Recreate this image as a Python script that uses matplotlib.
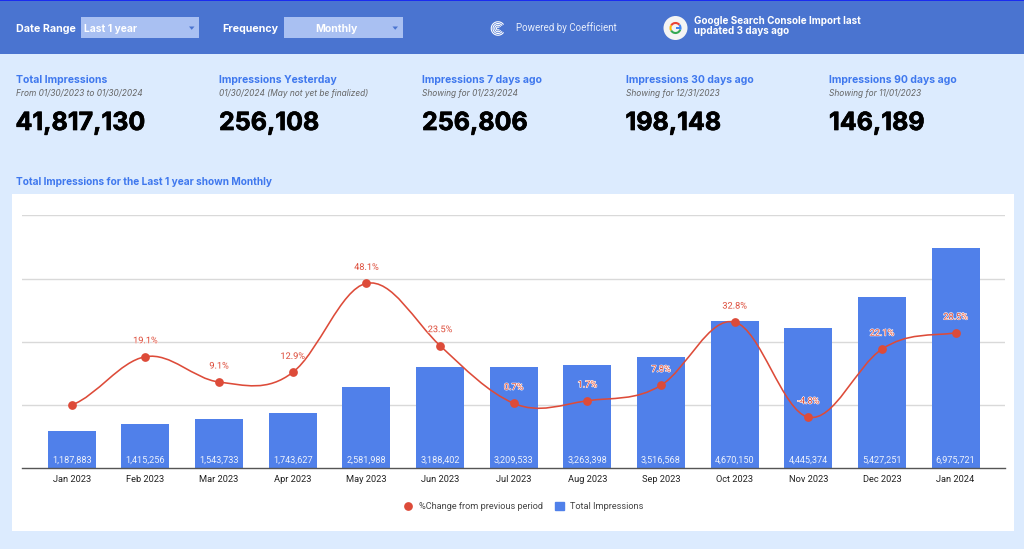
import matplotlib
matplotlib.use('Agg')
import matplotlib.pyplot as plt
import matplotlib.patheffects as pe
from matplotlib.lines import Line2D
from matplotlib.patches import Rectangle, Circle, Arc, PathPatch, Patch, Polygon
from matplotlib.path import Path
from matplotlib.ticker import FixedLocator, NullFormatter

months = ['Jan 2023', 'Feb 2023', 'Mar 2023', 'Apr 2023', 'May 2023', 'Jun 2023', 'Jul 2023',
          'Aug 2023', 'Sep 2023', 'Oct 2023', 'Nov 2023', 'Dec 2023', 'Jan 2024']
impressions = [1187883, 1415256, 1543733, 1743627, 2581988, 3188402, 3209533,
               3263398, 3516568, 4670150, 4445374, 5427251, 6975721]
pct_change = [0, 19.1, 9.1, 12.9, 48.1, 23.5, 0.7, 1.7, 7.8, 32.8, -4.8, 22.1, 28.5]
pct_labels = ['', '19.1%', '9.1%', '12.9%', '48.1%', '23.5%', '0.7%', '1.7%', '7.8%',
              '32.8%', '-4.8%', '22.1%', '28.5%']

kpi_titles = ['Total Impressions', 'Impressions Yesterday', 'Impressions 7 days ago',
              'Impressions 30 days ago', 'Impressions 90 days ago']
kpi_notes = ['From 01/30/2023 to 01/30/2024', '01/30/2024 (May not yet be finalized)',
             'Showing for 01/23/2024', 'Showing for 12/31/2023', 'Showing for 11/01/2023']
kpi_values = ['41,817,130', '256,108', '256,806', '198,148', '146,189']

BLUE = '#5080ea'
RED = '#dd4b39'
HEAD_FONT = ['Inter', 'DejaVu Sans']

W, H = 1024, 549
fig = plt.figure(figsize=(W / 100, H / 100), dpi=100, facecolor='#dcebfe')

# page furniture, in pixel coordinates
bg = fig.add_axes([0, 0, 1, 1], zorder=0)
bg.set_xlim(0, W)
bg.set_ylim(H, 0)
bg.axis('off')
bg.add_patch(Rectangle((0, 0), W, 54, color='#4a74d0', lw=0))
bg.add_patch(Rectangle((0, 0), W, 1.2, color='#1a2cf0', lw=0))
bg.add_patch(Rectangle((12, 194), 1002, 337, color='white', lw=0))

bg.text(15.5, 28.5, 'Date Range', color='white', fontsize=7.7, fontweight='bold', family=HEAD_FONT, va='center')
bg.add_patch(Rectangle((81, 17), 118, 21, color='#a9c0f2', lw=0))
bg.text(84, 28.5, 'Last 1 year', color='white', fontsize=7.4, fontweight='bold', family=HEAD_FONT, va='center')
bg.add_patch(Polygon([(189, 26.5), (194.5, 26.5), (191.7, 29.8)], color='#4a74d0', lw=0))
bg.text(222.5, 28.5, 'Frequency', color='white', fontsize=7.7, fontweight='bold', family=HEAD_FONT, va='center')
bg.add_patch(Rectangle((284, 17), 119, 21, color='#a9c0f2', lw=0))
bg.text(336.5, 28.5, 'Monthly', color='white', fontsize=7.6, fontweight='bold', family=HEAD_FONT, va='center', ha='center')
bg.add_patch(Polygon([(392.5, 26.5), (398, 26.5), (395.2, 29.8)], color='#4a74d0', lw=0))

# coefficient logo
for d in (13.5, 10, 6.5, 3):
    bg.add_patch(Arc((498, 28.5), d, d, theta1=35, theta2=325, color='white', lw=0.8))
bg.text(515.5, 28, 'Powered by Coefficient', color='#e8eefb', fontsize=7.0, family='Roboto', va='center')

# google badge
bg.add_patch(Circle((675.5, 28), 12, color='#f4f4f4', lw=0))
for t1, t2, col in [(320, 380, '#4285f4'), (210, 320, '#ea4335'), (150, 210, '#fbbc05'), (20, 150, '#34a853')]:
    bg.add_patch(Arc((675.5, 28), 10, 10, theta1=t1, theta2=t2, color=col, lw=1.5))
bg.add_patch(Rectangle((675.5, 27.2), 5, 1.6, color='#4285f4', lw=0))
bg.text(694, 20.5, 'Google Search Console Import last', color='white', fontsize=7.1, fontweight='bold', family=HEAD_FONT, va='center')
bg.text(694, 31, 'updated 3 days ago', color='white', fontsize=7.1, fontweight='bold', family=HEAD_FONT, va='center')

kpi_x = [15.5, 219, 422, 625.5, 829]
for x, title, note, value in zip(kpi_x, kpi_titles, kpi_notes, kpi_values):
    bg.text(x, 80, title, color='#3f78ee', fontsize=7.5, fontweight='bold', family=HEAD_FONT, va='center')
    bg.text(x, 93.5, note, color='#666666', fontsize=6.0, style='italic', family=HEAD_FONT, va='center')
    bg.text(x, 123.5, value, color='black', fontsize=18, fontweight='bold', family=HEAD_FONT, va='center',
            path_effects=[pe.withStroke(linewidth=0.5, foreground='black')])
bg.text(15.5, 182, 'Total Impressions for the Last 1 year shown Monthly', color='#3f78ee',
        fontsize=7.3, fontweight='bold', family=HEAD_FONT, va='center')

# the combo chart
ax = fig.add_axes([22 / W, 1 - 468.3 / H, 983.3 / W, 253 / H], zorder=1)
ax.patch.set_alpha(0)
x = list(range(len(months)))
ax.bar(x, impressions, width=0.652, color=BLUE, zorder=2)
ax.set_xlim(-0.675, 12.675)
ax.set_ylim(0, 8000000)
ax.yaxis.set_major_locator(FixedLocator([2000000, 4000000, 6000000, 8000000]))
ax.yaxis.set_major_formatter(NullFormatter())
ax.tick_params(axis='y', length=0)
ax.grid(axis='y', color='#d9d9d9', lw=1, zorder=0)
ax.set_axisbelow(True)
for side in ('top', 'left', 'right'):
    ax.spines[side].set_visible(False)
ax.spines['bottom'].set_color('#555555')
ax.spines['bottom'].set_linewidth(1)
ax.set_xticks(x)
ax.set_xticklabels(months, fontsize=6.7, family='Roboto', color='#222222')
ax.tick_params(axis='x', length=0, pad=4.5)

for xi, v in zip(x, impressions):
    ax.text(xi, 125000, f'{v:,}', color='white', fontsize=6.6, family='Roboto', ha='center', va='bottom', alpha=0.9, zorder=3)

ax2 = ax.twinx()
ax2.set_ylim(-25, 75)
ax2.axis('off')

# smooth line through the points, bezier handles from the neighbours
verts = [(x[0], pct_change[0])]
codes = [Path.MOVETO]
k = 0.2
for i in range(len(x) - 1):
    prev_y = pct_change[max(i - 1, 0)]
    next_y = pct_change[min(i + 2, len(x) - 1)]
    verts.append((x[i] + 0.35, pct_change[i] + (pct_change[i + 1] - prev_y) * k))
    verts.append((x[i + 1] - 0.35, pct_change[i + 1] - (next_y - pct_change[i]) * k))
    verts.append((x[i + 1], pct_change[i + 1]))
    codes += [Path.CURVE4, Path.CURVE4, Path.CURVE4]
ax2.add_patch(PathPatch(Path(verts, codes), fill=False, edgecolor=RED, lw=1.15, zorder=4))
ax2.plot(x, pct_change, ls='none', marker='o', ms=6.3, mew=0, color=RED, zorder=5)

for xi, v, lab in zip(x, pct_change, pct_labels):
    ax2.annotate(lab, (xi, v), xytext=(0, 11.5), textcoords='offset points', ha='center', va='center',
                 fontsize=6.6, family='Roboto', color=RED, zorder=6,
                 path_effects=[pe.withStroke(linewidth=0.8, foreground='white')])

handles = [Line2D([], [], ls='none', marker='o', ms=6.3, mew=0, color=RED),
           Patch(color=BLUE)]
fig.legend(handles, ['%Change from previous period', 'Total Impressions'], ncol=2, frameon=False,
           loc='center', bbox_to_anchor=(523.5 / W, 1 - 506.7 / H), prop={'family': 'Roboto', 'size': 6.6},
           labelcolor='#444444', handlelength=1, handleheight=1, handletextpad=0.65, columnspacing=1.36)

fig.savefig('out.png', dpi=100, facecolor=fig.get_facecolor())
